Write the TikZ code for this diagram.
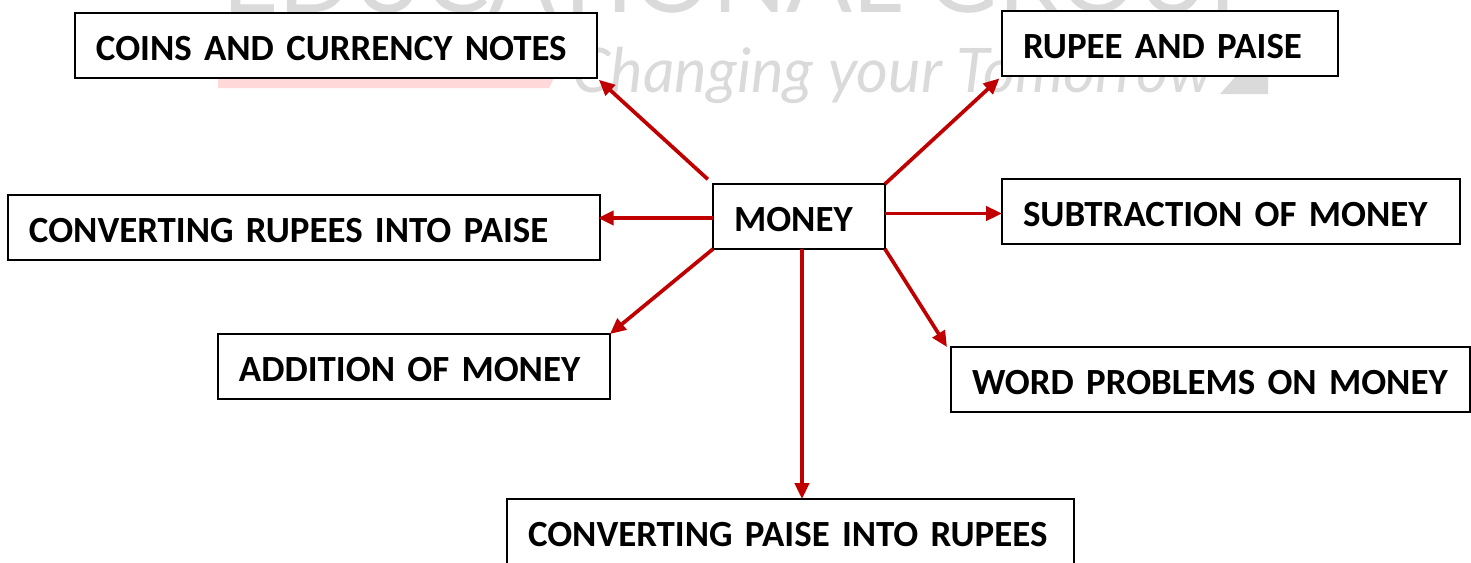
\documentclass[tikz,border=0pt]{standalone}
\usepackage{fontspec}
\setmainfont{Carlito}
\newfontfamily\markfont{Lato}
\usetikzlibrary{arrows.meta}
\definecolor{linkred}{RGB}{192,0,0}
\definecolor{faintgray}{RGB}{218,218,218}

\begin{document}
\begin{tikzpicture}[x=0.02cm,y=-0.02cm,
	topic/.style={rectangle,draw=black,fill=white,line width=1.1pt,anchor=north west,outer sep=0pt,inner xsep=0.42cm,inner ysep=0pt,minimum height=1.3cm,align=left,text width=#1,text height=17.2pt,text depth=0pt,font=\fontsize{21}{25}\selectfont\bfseries},
	link/.style={draw=linkred,line width=2.1pt,-{Triangle[length=9pt,width=8pt]}},
	logotext/.style={inner sep=0pt,text=faintgray}]
		\clip (0,0) rectangle (1471,562);
		\useasboundingbox (0,0) rectangle (1471,562);
		% faint logo behind the boxes
		\fill[red!15] (218,78) -- (554,78) -- (549,88) -- (218,88) -- cycle;
		\fill[faintgray] (1220,94) -- (1268,94) -- (1268,76) -- (1236,76) -- cycle;
		\node (wm1) [logotext,anchor=base west,font=\markfont\fontsize{55.5}{56}\selectfont] at (222,12) {EDUCATIONAL GROUP};
		\node (wm2) [logotext,anchor=base west,font=\markfont\itshape\fontsize{35}{35}\selectfont] at (572,92) {Changing your Tomorrow};
		\node (ui1) [topic=9.6cm] at (75,13) {COINS AND CURRENCY NOTES};
		\node (ui2) [topic=5.88cm] at (1002,11) {RUPEE AND PAISE};
		\node (ui3) [topic=11cm] at (8,195) {CONVERTING RUPEES INTO PAISE};
		\node (ui4) [topic=8.32cm] at (1002,179) {SUBTRACTION OF MONEY};
		\node (ui0) [topic=2.6cm] at (713,184) {MONEY};
		\node (ui5) [topic=7cm] at (218,334) {ADDITION OF MONEY};
		\node (ui6) [topic=9.54cm] at (951,347) {WORD PROBLEMS ON MONEY};
		\node (ui7) [topic=10.5cm] at (507,499) {CONVERTING PAISE INTO RUPEES};
		\draw[link,shorten <=4pt,shorten >=1.5pt] (ui0.north west) -- (ui1.south east);
		\draw[link,shorten >=2pt] (ui0.north east) -- (ui2.south west);
		\draw[link] ([yshift=-0.03cm]ui0.west) -- ([xshift=-0.04cm,yshift=-0.03cm]ui3.east |- ui0.west);
		\draw[link] ([yshift=0.06cm]ui0.east) -- ([yshift=0.06cm]ui4.west |- ui0.east);
		\draw[link] (ui0.south west) -- (ui5.north east);
		\draw[link] (ui0.south east) -- ([xshift=-0.08cm]ui6.north west);
		\draw[link] ([xshift=0.06cm]ui0.south) -- ([xshift=0.06cm]ui0.south |- ui7.north);
	\end{tikzpicture}
\end{document}
